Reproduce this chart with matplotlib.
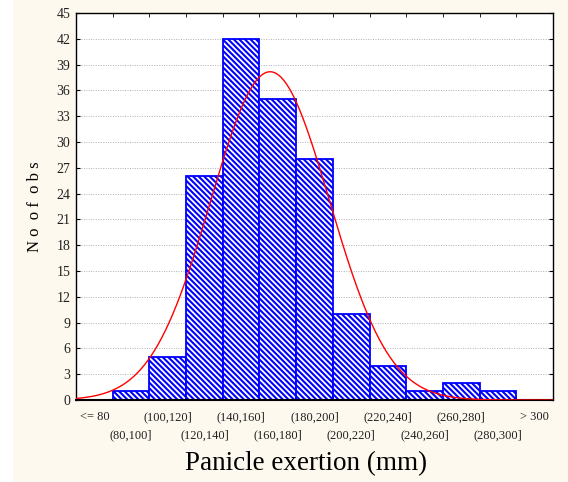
import matplotlib
matplotlib.use('Agg')
import matplotlib.pyplot as plt
import numpy as np
from matplotlib.patches import Rectangle

# histogram of panicle exertion
categories = ['<= 80', '(80,100]', '(100,120]', '(120,140]', '(140,160]',
              '(160,180]', '(180,200]', '(200,220]', '(220,240]', '(240,260]',
              '(260,280]', '(280,300]', '> 300']
counts = [0, 1, 5, 26, 42, 35, 28, 10, 4, 1, 2, 1, 0]

# fitted normal curve parameters (mm)
fit_mean = 165.8
fit_sd = 32.4
bin_width = 20
first_edge = 60  # value at left edge of the first category

plt.rcParams['font.family'] = ['Liberation Serif', 'DejaVu Serif']
plt.rcParams['hatch.linewidth'] = 1.5

fig = plt.figure(figsize=(5.68, 4.82), dpi=100, facecolor='white')
fig.patches.append(Rectangle((13 / 568, 0), 1, 1, transform=fig.transFigure,
                             facecolor='#fdf9ef', edgecolor='none', zorder=-10))
ax = fig.add_axes([0.1338, 0.170, 0.8398, 0.803])

pos = np.arange(len(categories))
ax.bar(pos + 0.5, counts, width=1.0, facecolor='white', edgecolor='#0000ff',
       hatch='\\' * 6, linewidth=1.3, zorder=2)

n_total = sum(counts)
vals = np.linspace(first_edge, first_edge + bin_width * len(categories), 400)
curve = n_total * bin_width / (fit_sd * np.sqrt(2 * np.pi)) * \
    np.exp(-0.5 * ((vals - fit_mean) / fit_sd) ** 2)
ax.plot((vals - first_edge) / bin_width, curve, color='red', lw=1.0, zorder=3)

ax.set_xlim(0, len(categories))
ax.set_ylim(0, 45)
ax.set_yticks(np.arange(0, 46, 3))
ax.yaxis.grid(True, linestyle=(0, (1, 1.5)), color='#b0b0b0', lw=0.7)
ax.set_axisbelow(True)

# staggered category labels: even ones on the axis, odd ones on a second row
even = pos[::2]
odd = pos[1::2]
ax.set_xticks(even + 0.5)
ax.set_xticklabels([categories[i] for i in even], fontsize=9, color='#222222')
ax.set_xticks(np.arange(len(categories) + 1), minor=True)
ax.tick_params(axis='x', which='major', length=0, pad=8)
ax.tick_params(axis='x', which='minor', direction='in', top=True, length=3)

sec = ax.secondary_xaxis('bottom')
sec.set_xticks(odd + 0.5)
sec.set_xticklabels([categories[i] for i in odd], fontsize=9, color='#222222')
sec.tick_params(axis='x', length=0, pad=21)
sec.spines['bottom'].set_visible(False)

ax.tick_params(axis='y', direction='in', right=True, length=3,
               labelsize=10, labelcolor='#222222', pad=4)

for s in ax.spines.values():
    s.set_linewidth(1.0)
ax.spines['bottom'].set_linewidth(1.5)

ax.set_ylabel('N o  o f  o b s', fontsize=12, labelpad=10)
fig.text(0.539, 0.039, 'Panicle exertion (mm)', fontsize=19.5,
         ha='center', va='center')

fig.savefig('out.png', dpi=100, facecolor=fig.get_facecolor())
